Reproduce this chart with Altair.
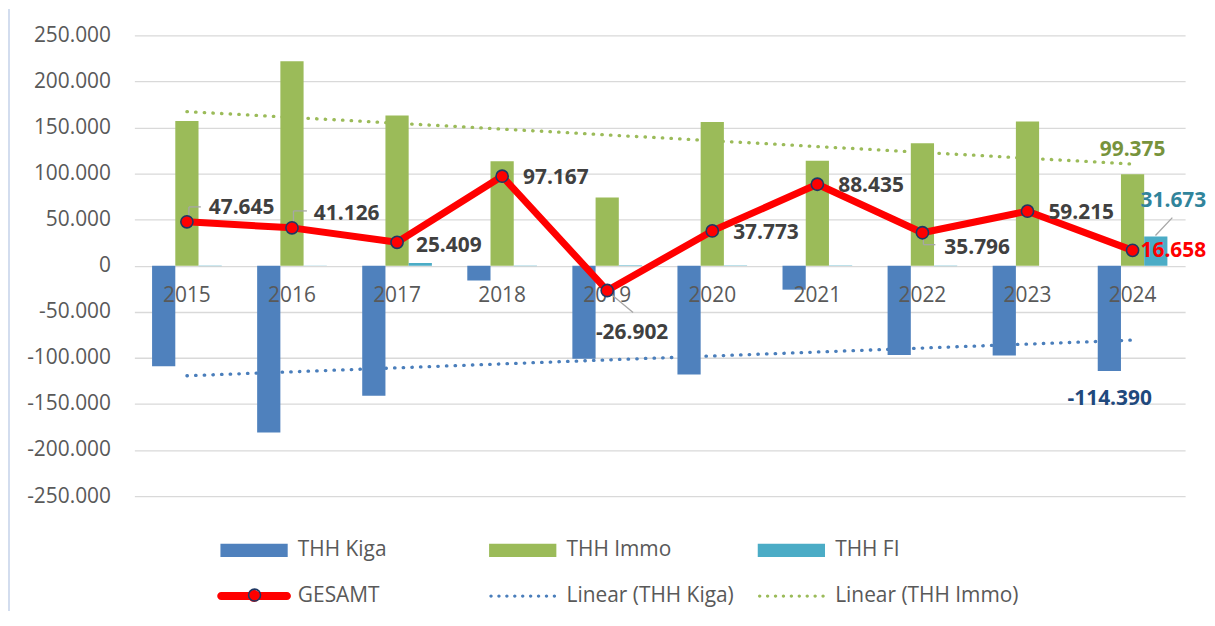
import altair as alt
import pandas as pd

# ---------------- data ----------------
years = [2015, 2016, 2017, 2018, 2019, 2020, 2021, 2022, 2023, 2024]
thh_kiga = [-109000, -181000, -141000, -16000, -101000, -118000, -26000, -97000, -97500, -114390]
thh_immo = [157000, 222000, 163000, 113500, 74000, 156000, 114000, 133000, 156500, 99375]
thh_fi = [-400, 200, 3000, -400, 500, 400, 400, -400, 0, 31673]
gesamt = [47645, 41126, 25409, 97167, -26902, 37773, 88435, 35796, 59215, 16658]

bar_series = ["THH Kiga", "THH Immo", "THH FI"]
bar_colors = ["#4F81BD", "#9BBB59", "#4BACC6"]
legend_names = ["THH Kiga", "THH Immo", "THH FI", "GESAMT",
                "Linear (THH Kiga)", "Linear (THH Immo)"]
legend_colors = ["#4F81BD", "#9BBB59", "#4BACC6", "#FF0000", "#4A7EBB", "#9BBB59"]
y_ticks = list(range(-250000, 250001, 50000))

wide = pd.DataFrame({"year": years, "gesamt": gesamt})
long = pd.DataFrame({
    "year": years * 3,
    "series": [bar_series[0]] * 10 + [bar_series[1]] * 10 + [bar_series[2]] * 10,
    "value": thh_kiga + thh_immo + thh_fi,
})

# ---------------- legend symbol paths (unit box) ----------------
bar_path = "M-2.6,-0.51H2.6V0.51H-2.6Z"
gesamt_path = ("M-2.54,-0.31H2.54A0.31,0.31 0 0,1 2.54,0.31H-2.54A0.31,0.31 0 0,1 -2.54,-0.31Z"
               "M-0.46,0A0.46,0.46 0 0,1 0.46,0A0.46,0.46 0 0,1 -0.46,0Z")
dot_parts = []
for k in range(9):
    cx = -2.45 + k * 0.6125
    r = 0.13
    dot_parts.append(f"M{cx - r:.4f},0A{r},{r} 0 0,1 {cx + r:.4f},0A{r},{r} 0 0,1 {cx - r:.4f},0Z")
dots_path = "".join(dot_parts)
legend_shapes = [bar_path, bar_path, bar_path, gesamt_path, dots_path, dots_path]

FONT = "Open Sans"

x_scale = alt.Scale(domain=years, paddingInner=0.337, paddingOuter=0.1685)
y_scale = alt.Scale(domain=[-250000, 250000], nice=False)
xoff_scale = alt.Scale(domain=bar_series, paddingInner=0, paddingOuter=0)
y_axis = alt.Axis(
    values=y_ticks, format=",.0f", grid=True, gridColor="#D9D9D9", gridWidth=1.3,
    domain=False, ticks=False, labelFont=FONT, labelFontSize=21,
    labelColor="#595959", labelPadding=24, title=None)

X = alt.X("year:O", scale=x_scale, axis=None)


def Yn(field):
    return alt.Y(field, scale=y_scale, axis=y_axis)


def trend(series, color):
    return alt.Chart(long).transform_filter(
        alt.datum.series == series
    ).transform_regression(
        "year", "value"
    ).mark_line(strokeDash=[0.5, 8.2], strokeCap="round", strokeWidth=3.3, color=color).encode(
        x=X, y=Yn("value:Q"))


trend_kiga = trend("THH Kiga", "#4A7EBB")
trend_immo = trend("THH Immo", "#9BBB59")

bars = alt.Chart(long).mark_bar().encode(
    x=X,
    xOffset=alt.XOffset("series:N", scale=xoff_scale),
    y=Yn("value:Q"),
    fill=alt.Fill("series:N", scale=alt.Scale(domain=bar_series, range=bar_colors), legend=None),
)

year_labels = alt.Chart(wide).mark_text(
    font=FONT, fontSize=21, color="#595959", dy=30.5, baseline="middle"
).encode(x=X, y=alt.YDatum(0, axis=y_axis), text="year:O")


# grey leader lines between points and their labels (pixel offsets from the point)
def leader(df, field, cond, x1, y1, x2, y2):
    return alt.Chart(df).transform_filter(cond).mark_rule(
        color="#A6A6A6", strokeWidth=1.3, xOffset=x1, yOffset=y1, x2Offset=x2, y2Offset=y2
    ).encode(x=X, y=Yn(f"{field}:Q"), x2=alt.X2("year"), y2=alt.Y2(field))


leaders = [
    leader(wide, "gesamt", alt.datum.year == 2015, 2, -5, 2, -15),
    leader(wide, "gesamt", alt.datum.year == 2015, 2, -15, 14, -15),
    leader(wide, "gesamt", alt.datum.year == 2016, 1.5, -6, 1.5, -17),
    leader(wide, "gesamt", alt.datum.year == 2016, 1.5, -17, 15, -17),
    leader(wide, "gesamt", alt.datum.year == 2019, 3, 3, 26, 22),
    leader(wide, "gesamt", alt.datum.year == 2022, 1, 5, 1, 12),
    leader(wide, "gesamt", alt.datum.year == 2022, 1, 12, 13, 12),
    leader(long, "value", (alt.datum.year == 2024) & (alt.datum.series == "THH FI"),
           23, -1, 40, -19),
]

line = alt.Chart(wide).mark_line(color="#FF0000", strokeWidth=7, strokeJoin="round").encode(
    x=X, y=Yn("gesamt:Q"))

points = alt.Chart(wide).mark_circle(
    color="#FF0000", opacity=1, size=150, stroke="#1F3864", strokeWidth=1.6
).encode(x=X, y=Yn("gesamt:Q"))


def glabel(yrs, dx, dy, align="left", color="#404040"):
    return alt.Chart(wide).transform_filter(
        alt.FieldOneOfPredicate(field="year", oneOf=yrs)
    ).mark_text(
        align=align, baseline="middle", dx=dx, dy=dy, font=FONT, fontSize=21,
        fontWeight="bold", color=color
    ).encode(x=X, y=Yn("gesamt:Q"), text=alt.Text("gesamt:Q", format=",.0f"))


labels = [
    glabel([2015, 2016], 22, -14),
    glabel([2017], 19, 4),
    glabel([2018, 2020, 2021, 2023], 21, 2),
    glabel([2019], 25, 43, align="center"),
    glabel([2022], 22, 15),
    glabel([2024], 8, 1, color="#FF0000"),
]


def blabel(series, dx, dy, color):
    return alt.Chart(long).transform_filter(
        (alt.datum.year == 2024) & (alt.datum.series == series)
    ).mark_text(
        align="center", baseline="middle", dx=dx, dy=dy, font=FONT, fontSize=21,
        fontWeight="bold", color=color
    ).encode(x=X, y=Yn("value:Q"), text=alt.Text("value:Q", format=",.0f"))


bar_labels = [
    blabel("THH Immo", 0, -24, "#77933C"),
    blabel("THH FI", 41, -36, "#31849B"),
    blabel("THH Kiga", -23, 28, "#1F497D"),
]

legend_a = alt.Legend(
    orient="none", legendX=86.5, legendY=504.5, columns=3, direction="horizontal",
    title=None, symbolSize=676, symbolOffset=20.8, labelOffset=31, symbolStrokeWidth=0,
    rowPadding=23, columnPadding=6, gridAlign="all", padding=0, labelLimit=400,
    labelFont=FONT, labelFontSize=21, labelColor="#595959",
)
legend_layer = alt.Chart(pd.DataFrame({"name": legend_names})).transform_filter(
    "false"
).mark_point(filled=True, opacity=1).encode(
    color=alt.Color("name:N", scale=alt.Scale(domain=legend_names, range=legend_colors),
                    legend=legend_a),
    shape=alt.Shape("name:N", scale=alt.Scale(domain=legend_names, range=legend_shapes),
                    legend=legend_a),
)

legend_b = alt.Legend(
    orient="none", legendX=110.3, legendY=552, title=None,
    symbolSize=144, symbolType="circle", symbolOffset=0, symbolStrokeWidth=1.6,
    symbolStrokeColor="#1F3864", padding=0, labelExpr="''",
    labelFont=FONT, labelFontSize=21,
)
ring_layer = alt.Chart(pd.DataFrame({"name": ["GESAMT"]})).transform_filter(
    "false"
).mark_point(filled=False, opacity=1, shape="circle", strokeWidth=1.6).encode(
    stroke=alt.Stroke("name:N", scale=alt.Scale(domain=["GESAMT"], range=["#1F3864"]),
                      legend=legend_b),
)

# light chart-area frame at the left edge
frame = alt.Chart(wide).mark_rule(color="#D3DDEE", strokeWidth=2).encode(
    x=alt.value(-126.5), y=alt.value(-26), y2=alt.value(600))

chart = alt.layer(
    frame, trend_kiga, trend_immo, bars, year_labels, *leaders, line, points, *labels,
    *bar_labels, legend_layer, ring_layer
).properties(
    width=1056, height=463,
    autosize=alt.AutoSizeParams(type="none"),
    padding={"left": 127, "top": 26, "right": 22, "bottom": 114},
).configure(
    locale=alt.Locale(number=alt.NumberLocale(
        decimal=",", thousands=".", grouping=[3], currency=["", " €"], minus="-")),
    view=alt.ViewConfig(stroke=None),
)

chart.save("out.html", embed_options={"renderer": "svg", "actions": False})
